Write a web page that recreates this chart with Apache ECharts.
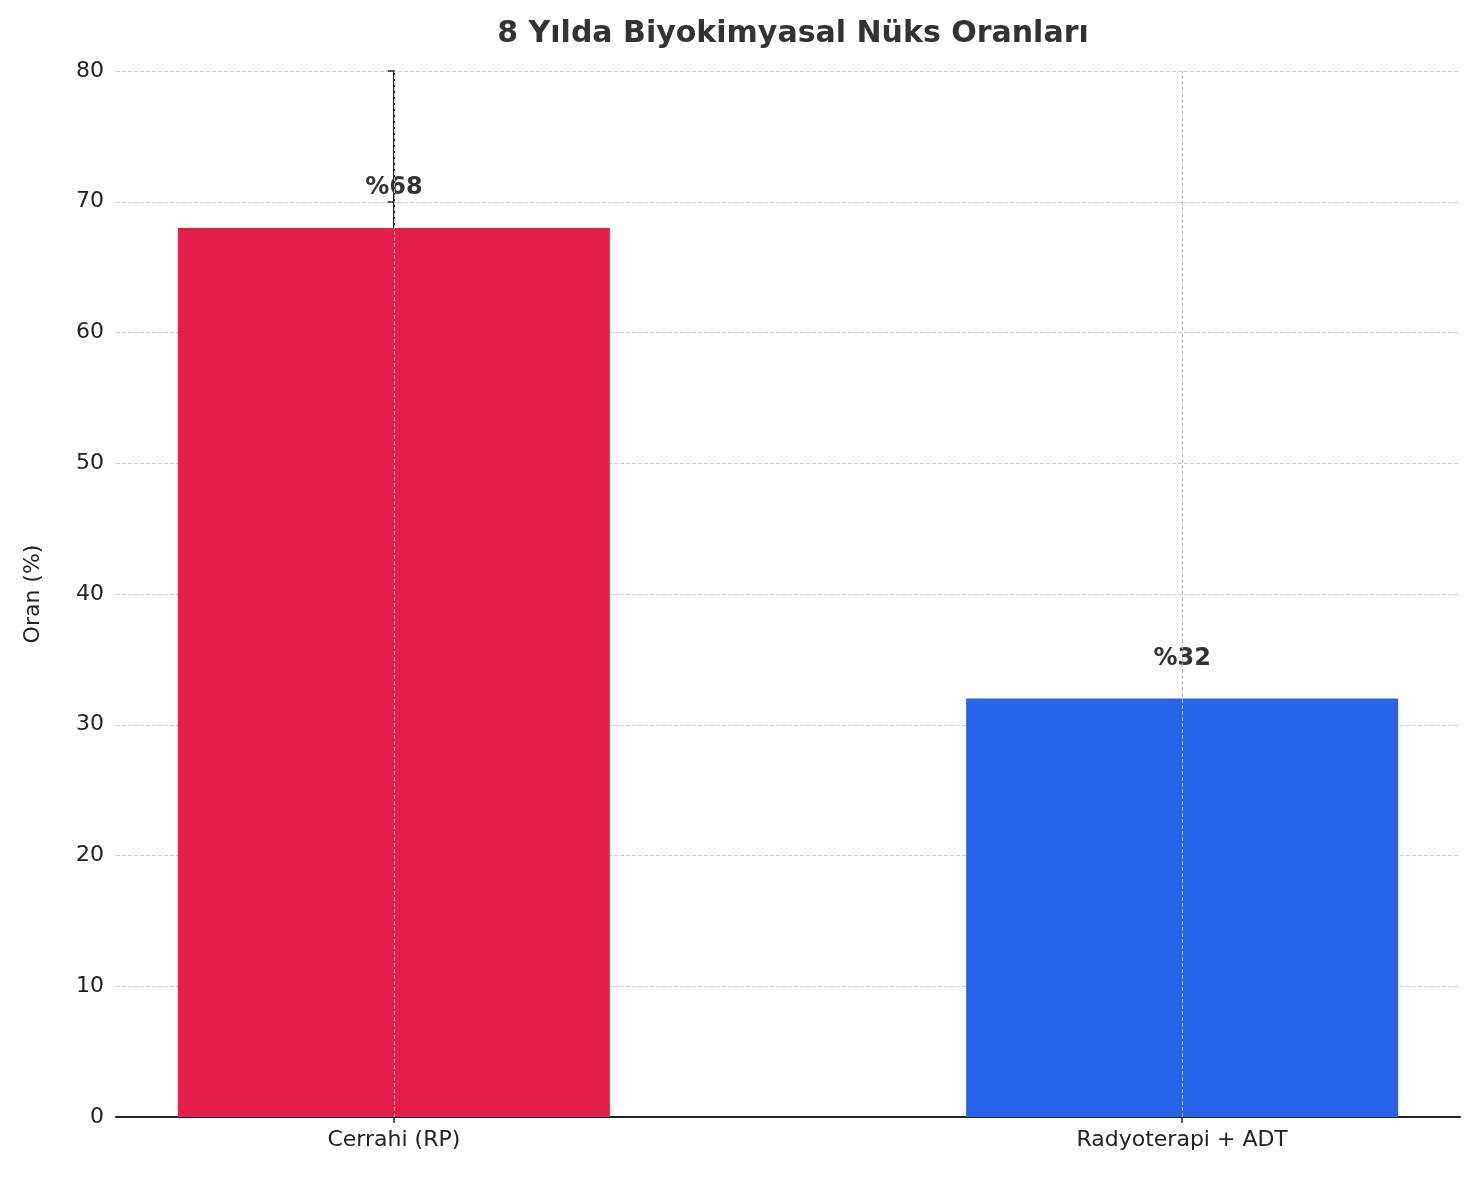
<!DOCTYPE html>
<html><head><meta charset="utf-8">
<script src="https://cdn.jsdelivr.net/npm/echarts@6/dist/echarts.min.js"></script>
<style>html,body{margin:0;padding:0;background:#fff}#c{width:1480px;height:1180px}</style>
</head><body><div id="c"></div>
<script>
const categories = ['Cerrahi (RP)', 'Radyoterapi + ADT'];
const values = [68, 32];
const colors = ['#E31E48', '#2563EB'];
const yTicks = [0, 10, 20, 30, 40, 50, 60, 70, 80];

const chart = echarts.init(document.getElementById('c'));
const font = 'DejaVu Sans';
chart.setOption({
  animation: false,
  textStyle: { fontFamily: font },
  title: { text: '8 Yılda Biyokimyasal Nüks Oranları', left: 788, top: 14, textAlign: 'center',
    textStyle: { fontFamily: font, fontSize: 30, fontWeight: 'bold', color: '#333' } },
  grid: { left: 116, right: 20, top: 71, bottom: 63 },
  xAxis: {
    type: 'value', min: -0.3525, max: 1.3525,
    axisLine: { lineStyle: { color: '#222', width: 2 } },
    splitLine: { show: false },
    axisTick: { customValues: [0, 1], length: 6, lineStyle: { color: '#222', width: 1.5 } },
    axisLabel: { customValues: [0, 1], formatter: v => categories[Math.round(v)], fontSize: 22, color: '#222', margin: 12, fontFamily: font }
  },
  yAxis: {
    type: 'value', min: 0, max: 80, interval: 10,
    name: 'Oran (%)', nameLocation: 'middle', nameGap: 72,
    nameTextStyle: { fontSize: 22, color: '#222', fontFamily: font },
    axisLine: { show: true, lineStyle: { color: '#222', width: 2 } },
    axisTick: { show: true, length: 6, lineStyle: { color: '#222', width: 1.5 } },
    axisLabel: { fontSize: 22, color: '#222', margin: 12, fontFamily: font, formatter: v => yTicks.includes(v) ? String(v) : '' },
    splitLine: { lineStyle: { type: 'dashed', color: '#d0d0d0', width: 1 } }
  },
  series: [{
    type: 'bar', barWidth: 432, z: 1,
    data: values.map((v, i) => ({ value: [i, v], itemStyle: { color: colors[i] } })),
    label: { show: true, position: 'top', distance: 28, formatter: p => '%' + p.value[1],
      fontSize: 24, fontWeight: 'bold', color: '#333', fontFamily: font },
    markLine: { silent: true, symbol: 'none', label: { show: false }, z: 5,
      lineStyle: { type: 'dashed', color: '#bbb', width: 1 },
      data: [{ xAxis: 0 }, { xAxis: 1 }] }
  }]
});
</script></body></html>
